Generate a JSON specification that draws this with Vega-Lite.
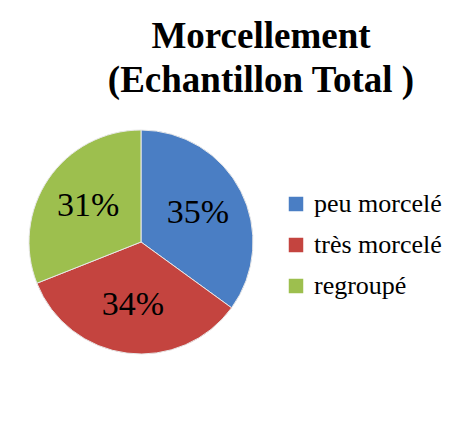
{
  "$schema": "https://vega.github.io/schema/vega-lite/v6.json",
  "autosize": "none",
  "width": 224,
  "height": 224,
  "padding": {"left": 29, "top": 130, "right": 197, "bottom": 69},
  "background": "white",
  "title": {
    "text": ["Morcellement", "(Echantillon Total )"],
    "font": "Liberation Serif",
    "fontSize": 37,
    "fontWeight": "bold",
    "color": "black",
    "lineHeight": 44,
    "anchor": "middle",
    "frame": "group",
    "dx": 120,
    "offset": 28
  },
  "data": {
    "values": [
      {"categorie": "peu morcelé", "part": 0.35, "rang": 1},
      {"categorie": "très morcelé", "part": 0.34, "rang": 2},
      {"categorie": "regroupé", "part": 0.31, "rang": 3}
    ]
  },
  "encoding": {
    "theta": {"field": "part", "type": "quantitative", "stack": true},
    "order": {"field": "rang", "type": "quantitative"},
    "color": {
      "field": "categorie",
      "type": "nominal",
      "scale": {
        "domain": ["peu morcelé", "très morcelé", "regroupé"],
        "range": ["#4a7ec4", "#c4443f", "#9dbf4e"]
      },
      "legend": {
        "title": null,
        "orient": "none",
        "legendX": 254,
        "legendY": 61,
        "symbolType": "square",
        "symbolSize": 210,
        "symbolStrokeWidth": 0,
        "labelFont": "Liberation Serif",
        "labelFontSize": 26,
        "labelColor": "black",
        "labelOffset": 5,
        "rowPadding": 15,
        "padding": 0
      }
    }
  },
  "layer": [
    {
      "mark": {"type": "arc", "outerRadius": 112, "stroke": "#e8e8e8", "strokeWidth": 1}
    },
    {
      "mark": {"type": "text", "radius": 64, "font": "Liberation Serif", "fontSize": 34, "color": "black"},
      "encoding": {
        "text": {"field": "part", "type": "quantitative", "format": ".0%"},
        "color": {"value": "black"}
      }
    }
  ],
  "config": {"view": {"stroke": null}}
}
